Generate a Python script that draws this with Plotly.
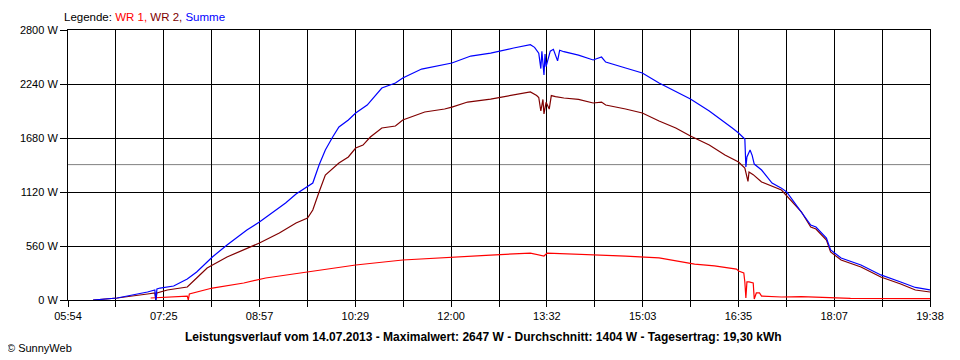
import plotly.graph_objects as go
import numpy as np

# ---------------- data ----------------
tick_labels = ["05:54", "07:25", "08:57", "10:29", "12:00", "13:32",
               "15:03", "16:35", "18:07", "19:38"]
y_ticks = [0, 560, 1120, 1680, 2240, 2800]
average_w = 1404

wr1_time = ["07:13", "07:29", "07:48", "07:49", "07:50", "08:12", "08:42", "09:03",
            "09:43", "10:29", "11:14", "12:01", "12:38", "13:16", "13:29", "13:32",
            "14:02", "14:47", "15:19", "15:42", "15:53", "16:12", "16:29", "16:33",
            "16:35", "16:38", "16:40", "16:41", "16:42", "16:43", "16:45", "16:49",
            "16:50", "16:52", "16:55", "16:57", "17:16", "17:35", "17:51", "18:22",
            "19:38"]
wr1_w = [21, 31, 41, 0, 62, 124, 176, 228,
         290, 363, 415, 446, 466, 487, 456, 487,
         477, 456, 436, 394, 373, 353, 332, 320,
         301, 290, 280, 187, 21, 187, 187, 176,
         10, 73, 73, 41, 31, 34, 28, 17,
         15]

wr2_time = ["06:18", "06:41", "07:10", "07:17", "07:18", "07:19", "07:29", "07:48",
            "07:57", "08:07", "08:26", "08:45", "08:57", "09:16", "09:32", "09:43",
            "09:48", "09:54", "10:00", "10:13", "10:22", "10:29", "10:36", "10:43",
            "10:54", "11:07", "11:14", "11:35", "11:54", "12:01", "12:16", "12:38",
            "13:00", "13:16", "13:22", "13:24", "13:26", "13:28", "13:29", "13:31",
            "13:34", "13:36", "13:40", "13:48", "14:02", "14:16", "14:24", "14:28",
            "14:47", "15:03", "15:19", "15:35", "15:49", "16:07", "16:22", "16:35",
            "16:41", "16:43", "16:44", "16:45", "16:49", "16:57", "17:07", "17:16",
            "17:35", "17:44", "17:49", "17:54", "17:59", "18:03", "18:13", "18:32",
            "18:51", "19:10", "19:24", "19:38"]
wr2_w = [0, 21, 62, 73, 0, 73, 104, 135,
         228, 332, 446, 539, 591, 695, 799, 850,
         933, 1120, 1296, 1421, 1483, 1576, 1607, 1690,
         1784, 1804, 1867, 1950, 1981, 2001, 2053, 2084,
         2130, 2157, 2120, 2100, 1960, 2080, 1930, 2050,
         1980, 2120, 2110, 2095, 2080, 2043, 2053, 2022,
         1981, 1939, 1856, 1784, 1700, 1607, 1504, 1431,
         1369, 1276, 1230, 1327, 1300, 1224, 1180, 1141,
         915, 757, 736, 674, 622, 498, 415, 342,
         239, 166, 104, 83]

sum_time = ["06:18", "06:41", "07:10", "07:17", "07:18", "07:19", "07:22", "07:35",
            "07:48", "07:57", "08:07", "08:12", "08:26", "08:42", "08:45", "08:57",
            "09:22", "09:32", "09:43", "09:48", "09:54", "10:00", "10:07", "10:13",
            "10:22", "10:29", "10:40", "10:54", "11:07", "11:14", "11:32", "11:54",
            "12:01", "12:19", "12:38", "13:00", "13:16", "13:20", "13:24", "13:26",
            "13:27", "13:29", "13:30", "13:31", "13:33", "13:35", "13:38", "13:42",
            "13:44", "13:48", "14:02", "14:16", "14:24", "14:28", "14:47", "15:03",
            "15:19", "15:35", "15:49", "16:07", "16:19", "16:29", "16:35", "16:41",
            "16:42", "16:43", "16:46", "16:48", "16:50", "16:57", "17:07", "17:16",
            "17:21", "17:35", "17:44", "17:49", "17:54", "17:59", "18:03", "18:13",
            "18:32", "18:51", "19:10", "19:24", "19:38"]
sum_w = [0, 21, 83, 104, 0, 114, 124, 145,
         218, 290, 394, 446, 570, 705, 726, 809,
         1006, 1099, 1172, 1213, 1400, 1556, 1690, 1794,
         1867, 1939, 2022, 2198, 2250, 2302, 2395, 2437,
         2458, 2530, 2561, 2613, 2647, 2620, 2560, 2400,
         2580, 2333, 2550, 2420, 2500, 2580, 2600, 2480,
         2590, 2575, 2540, 2489, 2520, 2468, 2406, 2354,
         2250, 2157, 2084, 1960, 1867, 1784, 1732, 1670,
         1379, 1483, 1556, 1500, 1410, 1348, 1213, 1160,
         1120, 915, 778, 757, 695, 643, 519, 436,
         363, 260, 187, 130, 104]


def to_min(t):
    h, m = t.split(":")
    return int(h) * 60 + int(m)


x_start = to_min(tick_labels[0])
x_end = to_min(tick_labels[-1])
major = np.linspace(x_start, x_end, len(tick_labels))
minor = np.linspace(x_start, x_end, 2 * (len(tick_labels) - 1) + 1)

FONT = "Liberation Sans, Arial, sans-serif"

fig = go.Figure()
fig.add_trace(go.Scatter(x=[to_min(t) for t in wr1_time], y=wr1_w, mode="lines",
                         line=dict(color="#ff0000", width=1.2), name="WR 1"))
fig.add_trace(go.Scatter(x=[to_min(t) for t in wr2_time], y=wr2_w, mode="lines",
                         line=dict(color="#800000", width=1.2), name="WR 2"))
fig.add_trace(go.Scatter(x=[to_min(t) for t in sum_time], y=sum_w, mode="lines",
                         line=dict(color="#0000ff", width=1.2), name="Summe"))

fig.add_shape(type="line", xref="paper", x0=0, x1=1, yref="y", y0=average_w, y1=average_w,
              line=dict(color="#808080", width=1), layer="below")

# page body has an 8 px margin; figure sized so the plot area sits at 60..930 x 30..300
fig.update_layout(
    width=952, height=352,
    margin=dict(l=52, r=30, t=22, b=60),
    paper_bgcolor="white", plot_bgcolor="white",
    showlegend=False,
    font=dict(family=FONT, size=11, color="black"),
    xaxis=dict(range=[x_start, x_end], tickmode="array", tickvals=list(major),
               ticktext=tick_labels, showgrid=True, gridcolor="black", gridwidth=1,
               showline=True, linecolor="black", linewidth=1, mirror=True,
               ticks="outside", ticklen=6, tickcolor="black",
               minor=dict(tickmode="array", tickvals=list(minor), showgrid=True,
                          gridcolor="black", gridwidth=1, ticks="outside",
                          ticklen=6, tickcolor="black"),
               zeroline=False, fixedrange=True),
    yaxis=dict(range=[0, 2800], tickmode="array", tickvals=y_ticks,
               ticktext=[f"{v} W" for v in y_ticks], showgrid=True,
               gridcolor="black", gridwidth=1, showline=True, linecolor="black",
               linewidth=1, mirror=True, ticks="outside", ticklen=7,
               tickcolor="black", zeroline=False, fixedrange=True),
)

fig.add_annotation(xref="paper", yref="paper", x=(54 - 60) / 870, y=1 + 13 / 270,
                   xanchor="left", yanchor="middle", showarrow=False,
                   text=("Legende: <span style='color:#ff0000'>WR 1, </span>"
                         "<span style='color:#800000'>WR 2, </span>"
                         "<span style='color:#0000ff'>Summe</span>"),
                   font=dict(size=11.5, family=FONT, color="black"))

fig.add_annotation(xref="paper", yref="paper", x=(479.5 - 60) / 870, y=-37 / 270,
                   xanchor="center", yanchor="middle", showarrow=False,
                   text=("<b>Leistungsverlauf vom 14.07.2013 - Maximalwert: 2647 W - "
                         "Durchschnitt: 1404 W - Tagesertrag: 19,30 kWh</b>"),
                   font=dict(size=12, family=FONT, color="black"))

fig.add_annotation(xref="paper", yref="paper", x=(-4 - 60) / 870, y=-48 / 270,
                   xanchor="left", yanchor="middle", showarrow=False,
                   text="© SunnyWeb", font=dict(size=11, family=FONT, color="black"))

fig.write_html("out.html")
